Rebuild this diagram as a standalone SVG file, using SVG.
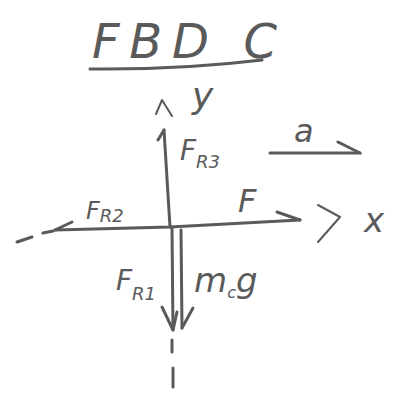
<svg xmlns="http://www.w3.org/2000/svg" width="402" height="395" viewBox="0 0 402 395">
<style>
.s{fill:none;stroke:#5a5a5a;stroke-width:3;stroke-linecap:round;stroke-linejoin:round}
.t{fill:#5a5a5a;font-family:"DejaVu Sans",sans-serif;font-weight:300;font-style:italic}
.sub{font-size:18px}
</style>
<rect width="402" height="395" fill="#ffffff"/>
<g id="title">
<text class="t" x="92" y="58" font-size="48" textLength="185" lengthAdjust="spacing">FBD C</text>
<path class="s" d="M90,69 Q180,70 262,60"/>
</g>
<g id="connectors">
<path class="s" d="M17,242 L32,237"/>
<path class="s" d="M43,233 L53,231"/>
<path class="s" d="M55,230 L170,227 L300,220"/>
<path class="s" d="M55,230 L72,222"/>
<path class="s" d="M277,212 L300,220"/>
<path class="s" d="M318,205 L340,217 L318,242" style="stroke-width:2"/>
<path class="s" d="M170,227 L164,130"/>
<path class="s" d="M164,130 L158,140"/>
<path class="s" d="M156,114 L162,100 L172,116" style="stroke-width:2"/>
<path class="s" d="M172,227 L173,330"/>
<path class="s" d="M162,307 L173,330 L177,312"/>
<path class="s" d="M181,230 L182,328"/>
<path class="s" d="M182,328 L193,308"/>
<path class="s" d="M172,340 L172,352"/>
<path class="s" d="M173,368 L173,387"/>
<path class="s" d="M270,153 L360,153"/>
<path class="s" d="M338,142 L360,153"/>
</g>
<g id="label-y"><text class="t" x="192" y="108" font-size="36">y</text></g>
<g id="label-x"><text class="t" x="364" y="232" font-size="34">x</text></g>
<g id="label-a"><text class="t" x="294" y="142" font-size="32">a</text></g>
<g id="label-FR3"><text class="t" x="180" y="160" font-size="28">F<tspan class="sub" dy="8">R3</tspan></text></g>
<g id="label-FR2"><text class="t" x="86" y="219" font-size="24">F<tspan class="sub" dy="3">R2</tspan></text></g>
<g id="label-F"><text class="t" x="238" y="212" font-size="32">F</text></g>
<g id="label-FR1"><text class="t" x="116" y="290" font-size="28">F<tspan class="sub" dy="10">R1</tspan></text></g>
<g id="label-mcg"><text class="t" x="194" y="292" font-size="34">m<tspan font-size="16" dy="6">c</tspan><tspan dy="-6">g</tspan></text></g>
</svg>
